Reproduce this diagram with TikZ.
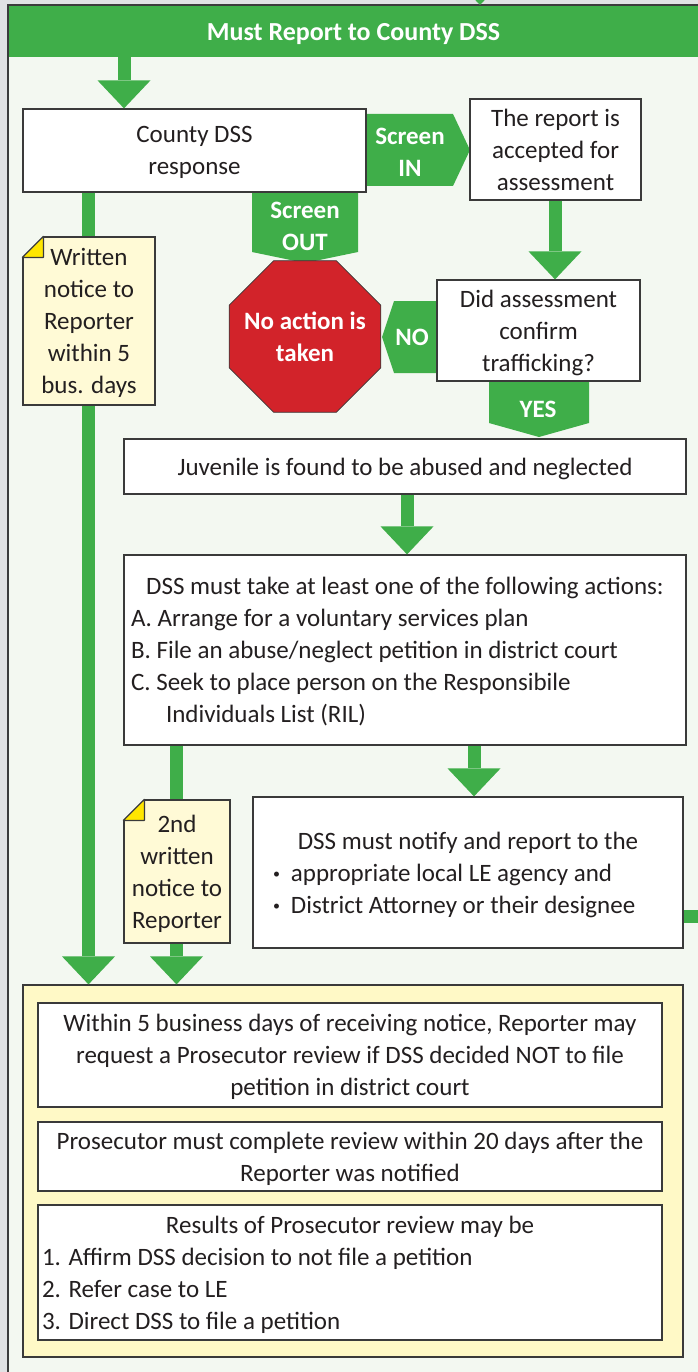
\documentclass[tikz,border=0pt]{standalone}
\usepackage{fontspec}
\setmainfont{Carlito}
\usetikzlibrary{arrows.meta,calc,shapes.geometric}

\definecolor{flowgreen}{HTML}{3FAE49}
\definecolor{framebg}{HTML}{F3F8F1}
\definecolor{outergray}{HTML}{E1E2E4}
\definecolor{framedark}{HTML}{3C3C3C}
\definecolor{boxline}{HTML}{3A3A3A}
\definecolor{stopred}{HTML}{D2232A}
\definecolor{notefill}{HTML}{FFFAD6}
\definecolor{panelfill}{HTML}{FFF9C6}
\definecolor{foldyellow}{HTML}{FFE600}
\definecolor{inkgray}{HTML}{231F20}

\tikzset{
	every node/.style={font=\fontsize{25}{32}\selectfont, text=inkgray, text depth=0pt},
	box/.style={draw=boxline, fill=white, line width=1.2pt, align=center, inner sep=0pt},
	listbox/.style={box, align=left},
	note/.style={box, fill=notefill},
	lbl/.style={font=\fontsize{25}{32}\selectfont\bfseries, text=white, align=center, inner sep=0pt},
	flow/.style={draw=flowgreen, line width=13pt, -{Triangle[width=53pt,length=28pt,line width=0pt]}},
}

% folded corner of a note
\newcommand{\dogear}[1]{%
	\fill[framebg] ($(#1.north west)+(-2,-2)$) -- ($(#1.north west)+(23,-2)$) -- ($(#1.north west)+(-2,23)$) -- cycle;
	\filldraw[fill=foldyellow, draw=boxline, line width=1.2pt, line join=round] ($(#1.north west)+(0,21)$) -- ($(#1.north west)+(21,0)$) -- ($(#1.north west)+(21,21)$) -- cycle;
}
\newcommand{\listdot}{\raisebox{3pt}{\fontsize{14}{14}\selectfont\textbullet}\hspace{11pt}}

\begin{document}
\begin{tikzpicture}[x=1pt, y=-1pt]
	\useasboundingbox (0,0) rectangle (698,1372);
	\fill[outergray] (0,0) rectangle (698,1372);
	\filldraw[fill=framebg, draw=framedark, line width=2pt] (8,5) rectangle (730,1400);
	
	\node[fill=flowgreen, minimum width=689pt, minimum height=51pt, inner sep=0pt, font=\fontsize{26}{32}\selectfont\bfseries, text=white] (head) at (353.5,31.5) {Must Report to County DSS};
	
	% columns of the arrows
	\coordinate (colL) at (88.5,0);
	\coordinate (colH) at (124,0);
	\coordinate (colN) at (176.5,0);
	\coordinate (colJ) at (407,0);
	\coordinate (colR) at (474,0);
	\coordinate (colA) at (555,0);
	\coordinate (inflow) at (480,-40);
	\coordinate (intip) at (480,5);
	\coordinate (outR) at (720,916);
	
	\draw[flow] (inflow) -- (intip);
	
	% green labels
	\fill[flowgreen] (366,114) -- (453,114) -- (470,150) -- (453,186) -- (366,186) -- cycle;
	\fill[flowgreen] (252,192) -- (358,192) -- (358,252) -- (305,263) -- (252,252) -- cycle;
	\fill[flowgreen] (437,301) -- (394,301) -- (382,337) -- (394,373) -- (437,373) -- cycle;
	\fill[flowgreen] (489,381) -- (589,381) -- (589,423) -- (539,437) -- (489,423) -- cycle;
	\node[lbl] (scrin) at (410,152) {Screen\\IN};
	\node[lbl] (scrout) at (305,226) {Screen\\OUT};
	\node[lbl] (no) at (412,337) {NO};
	\node[lbl] (yes) at (538,409) {YES};
	
	% boxes
	\node[box, minimum width=343pt, minimum height=83pt] (county) at (194.5,150.5) {County DSS\\response};
	\node[box, minimum width=171pt, minimum height=101pt] (report) at (555.5,149.5) {The report is\\accepted for\\assessment};
	\node[box, minimum width=203pt, minimum height=101pt] (assess) at (538.5,330.5) {Did assessment\\confirm\\trafficking?};
	\node[regular polygon, regular polygon sides=8, minimum size=164pt, inner sep=0pt, fill=stopred, draw=boxline, line width=0.8pt,
		label={[lbl]center:{No action is\\taken}}] (stop) at (305,336.5) {};
	\node[box, minimum width=562pt, minimum height=55pt] (juv) at (405,466.5) {Juvenile is found to be abused and neglected};
	\node[listbox, inner xsep=7pt, minimum height=190pt] (actions) at (405,650) {%
		\makebox[548pt]{DSS must take at least one of the following actions:}\\
		A. Arrange for a voluntary services plan\\
		B. File an abuse/neglect petition in district court\\
		C. Seek to place person on the Responsibile\\
		\hspace*{35pt}Individuals List (RIL)};
	\node[listbox, inner xsep=20pt, minimum height=151pt] (notify) at (468,872.5) {%
		\makebox[390pt]{DSS must notify and report to the}\\
		\listdot appropriate local LE agency and\\
		\listdot District Attorney or their designee};
	
	% reviews
	\node[box, fill=panelfill, minimum width=660pt, minimum height=372pt] (panel) at (353,1171) {};
	\node[box, minimum width=624pt, minimum height=104pt] (rvA) at (350,1055) {Within 5 business days of receiving notice, Reporter may\\request a Prosecutor review if DSS decided NOT to file\\petition in district court};
	\node[box, minimum width=624pt, minimum height=69pt] (rvB) at (350,1156.5) {Prosecutor must complete review within 20 days after the\\Reporter was notified};
	\node[listbox, inner xsep=4pt, minimum height=135pt] (rvC) at (350,1272.5) {%
		\makebox[616pt]{Results of Prosecutor review may be}\\
		1. Affirm DSS decision to not file a petition\\
		2. Refer case to LE\\
		3. Direct DSS to file a petition};
	
	% arrows
	\draw[flow] (head.south -| colH) -- (county.north -| colH);
	\draw[flow] (report.south -| colA) -- (assess.north -| colA);
	\draw[flow] (juv.south -| colJ) -- (actions.north -| colJ);
	\draw[flow] (actions.south -| colR) -- (notify.north -| colR);
	\draw[flow] (county.south -| colL) -- (panel.north -| colL);
	\draw[flow] (actions.south -| colN) -- (panel.north -| colN);
	\draw[draw=flowgreen, line width=13pt] (notify.east |- outR) -- (outR);
	
	% notes to the reporter
	\node[note, minimum width=132pt, minimum height=168pt] (note1) at (89,321) {Written\\notice to\\Reporter\\within 5\\bus. days};
	\dogear{note1}
	\node[note, minimum width=106pt, minimum height=143pt] (note2) at (177,871.5) {2nd\\written\\notice to\\Reporter};
	\dogear{note2}
\end{tikzpicture}
\end{document}
